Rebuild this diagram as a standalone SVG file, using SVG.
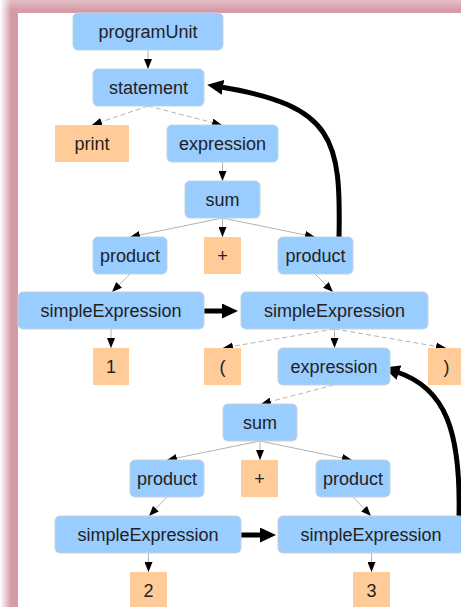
<svg xmlns="http://www.w3.org/2000/svg" width="461" height="607" viewBox="0 0 461 607">
  <style>
    .rule rect { fill: #99ccff; stroke: #c4d2de; stroke-width: 1; }
    .tok rect { fill: #ffcc99; stroke: none; }
    text { font-family: "Liberation Sans", Arial, sans-serif; font-size: 18px; fill: #222; text-anchor: middle; }
    .edge { stroke: #b3b3b3; stroke-width: 1; fill: none; marker-end: url(#tip); }
    .dash { stroke-dasharray: 5 3; }
    .link { stroke: #000; stroke-width: 5; fill: none; marker-end: url(#bigtip); }
  </style>
  <defs>
    <marker id="tip" viewBox="0 0 10 8" refX="10" refY="4" markerWidth="10" markerHeight="8" markerUnits="userSpaceOnUse" orient="auto">
      <path d="M0,0 L10,4 L0,8 z" fill="#000"/>
    </marker>
    <marker id="bigtip" viewBox="0 0 16 15" refX="2" refY="7.5" markerWidth="16" markerHeight="15" markerUnits="userSpaceOnUse" orient="auto">
      <path d="M0,0 L16,7.5 L0,15 z" fill="#000"/>
    </marker>
    <linearGradient id="leftFade" x1="0" y1="0" x2="1" y2="0">
      <stop offset="0" stop-color="#fff" stop-opacity="1"/>
      <stop offset="1" stop-color="#fff" stop-opacity="0"/>
    </linearGradient>
    <linearGradient id="topFade" x1="0" y1="0" x2="0" y2="1">
      <stop offset="0" stop-color="#fff" stop-opacity="0.35"/>
      <stop offset="1" stop-color="#fff" stop-opacity="0"/>
    </linearGradient>
  </defs>

  <!-- frame -->
  <g id="frame">
    <rect x="0" y="0" width="461" height="607" fill="#d59ca8"/>
    <rect x="0" y="0" width="461" height="10" fill="url(#topFade)"/>
    <rect x="0" y="0" width="11" height="607" fill="url(#leftFade)"/>
    <rect x="18" y="13" width="443" height="594" fill="#fff"/>
  </g>

  <!-- tree edges and links -->
  <g id="connectors">
    <line class="edge" x1="148" y1="50" x2="148" y2="69"/>
    <line class="edge dash" x1="148" y1="106" x2="92" y2="125"/>
    <line class="edge dash" x1="148" y1="106" x2="222" y2="125"/>
    <line class="edge" x1="222.5" y1="162" x2="222.5" y2="181"/>
    <line class="edge" x1="222.5" y1="218" x2="130" y2="237"/>
    <line class="edge" x1="222.5" y1="218" x2="222.5" y2="237"/>
    <line class="edge" x1="222.5" y1="218" x2="315" y2="237"/>
    <line class="edge" x1="130" y1="274" x2="112" y2="292"/>
    <line class="edge" x1="315" y1="274" x2="333" y2="292"/>
    <line class="edge" x1="111" y1="329" x2="111" y2="348"/>
    <line class="edge dash" x1="334.5" y1="329" x2="223" y2="348"/>
    <line class="edge" x1="334.5" y1="329" x2="334.5" y2="348"/>
    <line class="edge dash" x1="334.5" y1="329" x2="446" y2="348"/>
    <line class="edge dash" x1="334" y1="385" x2="261" y2="404"/>
    <line class="edge" x1="260" y1="441" x2="167" y2="460"/>
    <line class="edge" x1="260" y1="441" x2="260" y2="460"/>
    <line class="edge" x1="260" y1="441" x2="352" y2="460"/>
    <line class="edge" x1="167" y1="497" x2="149" y2="516"/>
    <line class="edge" x1="353" y1="497" x2="371" y2="516"/>
    <line class="edge" x1="148.5" y1="553" x2="148.5" y2="572"/>
    <line class="edge" x1="371.5" y1="553" x2="371.5" y2="572"/>

    <line class="link" x1="200" y1="311" x2="224" y2="311"/>
    <line class="link" x1="238" y1="535" x2="262" y2="535"/>
    <path class="link" d="M339,238 C341,140 335,106 221,87"/>
    <path class="link" d="M459,517 C461,430 445,388 397,372"/>
  </g>

  <!-- nodes -->
  <g id="programUnit" class="rule"><rect x="73" y="13" width="150" height="37" rx="5"/><text x="148" y="38">programUnit</text></g>
  <g id="statement" class="rule"><rect x="93" y="69" width="111" height="37" rx="5"/><text x="148.5" y="94">statement</text></g>
  <g id="print" class="tok"><rect x="55" y="125" width="74" height="37"/><text x="92" y="150">print</text></g>
  <g id="expression" class="rule"><rect x="167" y="125" width="111" height="37" rx="5"/><text x="222.5" y="150">expression</text></g>
  <g id="sum" class="rule"><rect x="185" y="181" width="75" height="37" rx="5"/><text x="222.5" y="206">sum</text></g>
  <g id="product1" class="rule"><rect x="93" y="237" width="74" height="37" rx="5"/><text x="130" y="262">product</text></g>
  <g id="plus1" class="tok"><rect x="204" y="237" width="37" height="37"/><text x="222.5" y="262">+</text></g>
  <g id="product2" class="rule"><rect x="278" y="237" width="75" height="37" rx="5"/><text x="315.5" y="262">product</text></g>
  <g id="simpleExpression1" class="rule"><rect x="18" y="292" width="186" height="37" rx="5"/><text x="111" y="317">simpleExpression</text></g>
  <g id="simpleExpression2" class="rule"><rect x="241" y="292" width="187" height="37" rx="5"/><text x="334.5" y="317">simpleExpression</text></g>
  <g id="one" class="tok"><rect x="93" y="348" width="36" height="37"/><text x="111" y="373">1</text></g>
  <g id="lparen" class="tok"><rect x="204" y="348" width="37" height="37"/><text x="222.5" y="373">(</text></g>
  <g id="expression2" class="rule"><rect x="278" y="348" width="112" height="37" rx="5"/><text x="334" y="373">expression</text></g>
  <g id="rparen" class="tok"><rect x="428" y="348" width="37" height="37"/><text x="446.5" y="373">)</text></g>
  <g id="sum2" class="rule"><rect x="223" y="404" width="74" height="37" rx="5"/><text x="260" y="429">sum</text></g>
  <g id="product3" class="rule"><rect x="130" y="460" width="74" height="37" rx="5"/><text x="167" y="485">product</text></g>
  <g id="plus2" class="tok"><rect x="241" y="460" width="37" height="37"/><text x="259.5" y="485">+</text></g>
  <g id="product4" class="rule"><rect x="316" y="460" width="74" height="37" rx="5"/><text x="353" y="485">product</text></g>
  <g id="simpleExpression3" class="rule"><rect x="55" y="516" width="186" height="37" rx="5"/><text x="148" y="541">simpleExpression</text></g>
  <g id="simpleExpression4" class="rule"><rect x="278" y="516" width="186" height="37" rx="5"/><text x="371" y="541">simpleExpression</text></g>
  <g id="two" class="tok"><rect x="130" y="572" width="37" height="37"/><text x="148.5" y="597">2</text></g>
  <g id="three" class="tok"><rect x="353" y="572" width="37" height="37"/><text x="371.5" y="597">3</text></g>
</svg>
